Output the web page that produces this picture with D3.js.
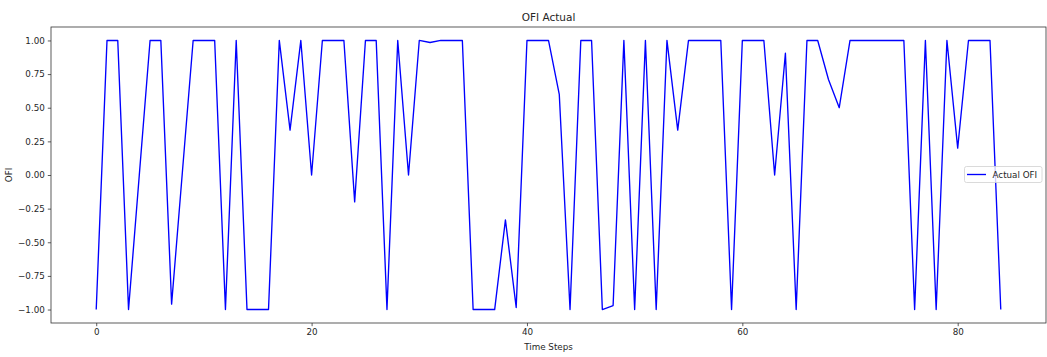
<!DOCTYPE html>
<html>
<head>
<meta charset="utf-8">
<script src="https://cdn.jsdelivr.net/npm/d3@7"></script>
<style>
  html, body { margin: 0; padding: 0; background: #fff; }
  svg { display: block; }
  text { font-family: "DejaVu Sans", sans-serif; fill: #262626; }
</style>
</head>
<body>
<svg id="chart" width="1047" height="357"></svg>
<script>
const timeSteps = d3.range(0, 85);
const actualOFI = [
  -1, 1, 1, -1, 0, 1, 1, -0.96, 0.02, 1,
  1, 1, -1, 1, -1, -1, -1, 1, 0.333, 1,
  0, 1, 1, 1, -0.2, 1, 1, -1, 1, 0,
  1, 0.985, 1, 1, 1, -1, -1, -1, -0.333, -0.985,
  1, 1, 1, 0.6, -1, 1, 1, -1, -0.97, 1,
  -1, 1, -1, 1, 0.333, 1, 1, 1, 1, -1,
  1, 1, 1, 0, 0.905, -1, 1, 1, 0.71, 0.5,
  1, 1, 1, 1, 1, 1, -1, 1, -1, 1,
  0.2, 1, 1, 1, -1
];
const xTicks = [0, 20, 40, 60, 80];
const yTicks = [-1, -0.75, -0.5, -0.25, 0, 0.25, 0.5, 0.75, 1];
const titleText = "OFI Actual";
const xLabel = "Time Steps";
const yLabel = "OFI";
const seriesName = "Actual OFI";

const svg = d3.select("#chart");
const L = 51, R = 1046, T = 27, B = 323;

const x = d3.scaleLinear().domain([-4.2, 88.2]).range([L, R]);
const y = d3.scaleLinear().domain([-1.1, 1.1]).range([B, T]);

// axes
const xAxis = d3.axisBottom(x).tickValues(xTicks).tickSize(3.2).tickPadding(3).tickFormat(d3.format("d"));
const yAxis = d3.axisLeft(y).tickValues(yTicks).tickSize(3.2).tickPadding(3).tickFormat(d => d3.format(".2f")(d).replace("-", "\u2212"));

const gx = svg.append("g").attr("transform", `translate(0,${B})`).call(xAxis);
const gy = svg.append("g").attr("transform", `translate(${L},0)`).call(yAxis);
[gx, gy].forEach(g => {
  g.select(".domain").remove();
  g.selectAll(".tick line").attr("stroke", "#333").attr("stroke-width", 0.8);
  g.selectAll(".tick text").attr("font-size", 8.75).attr("fill", "#262626").attr("font-family", "DejaVu Sans, sans-serif");
});

// line
const line = d3.line().x((d, i) => x(timeSteps[i])).y(d => y(d));
svg.append("path")
  .datum(actualOFI)
  .attr("fill", "none")
  .attr("stroke", "#0000ff")
  .attr("stroke-width", 1.35)
  .attr("stroke-linejoin", "round")
  .attr("d", line);

// frame
svg.append("rect")
  .attr("x", L).attr("y", T).attr("width", R - L).attr("height", B - T)
  .attr("fill", "none").attr("stroke", "#333").attr("stroke-width", 0.8);

// title and labels
svg.append("text").attr("x", (L + R) / 2).attr("y", 21).attr("text-anchor", "middle")
  .attr("font-size", 10.5).text(titleText);
svg.append("text").attr("x", (L + R) / 2).attr("y", 349.5).attr("text-anchor", "middle")
  .attr("font-size", 8.75).text(xLabel);
svg.append("text").attr("transform", `translate(12,${(T + B) / 2}) rotate(-90)`)
  .attr("text-anchor", "middle").attr("font-size", 8.75).text(yLabel);

// legend
const lg = svg.append("g");
lg.append("rect").attr("x", 964.5).attr("y", 166.5).attr("width", 77.5).attr("height", 16)
  .attr("rx", 2).attr("fill", "#fff").attr("fill-opacity", 0.8)
  .attr("stroke", "#d0d0d0").attr("stroke-width", 0.8);
lg.append("line").attr("x1", 967).attr("x2", 986).attr("y1", 174.5).attr("y2", 174.5)
  .attr("stroke", "#0000ff").attr("stroke-width", 1.35);
lg.append("text").attr("x", 992.5).attr("y", 177.8).attr("font-size", 8.75).text(seriesName);
</script>
</body>
</html>
